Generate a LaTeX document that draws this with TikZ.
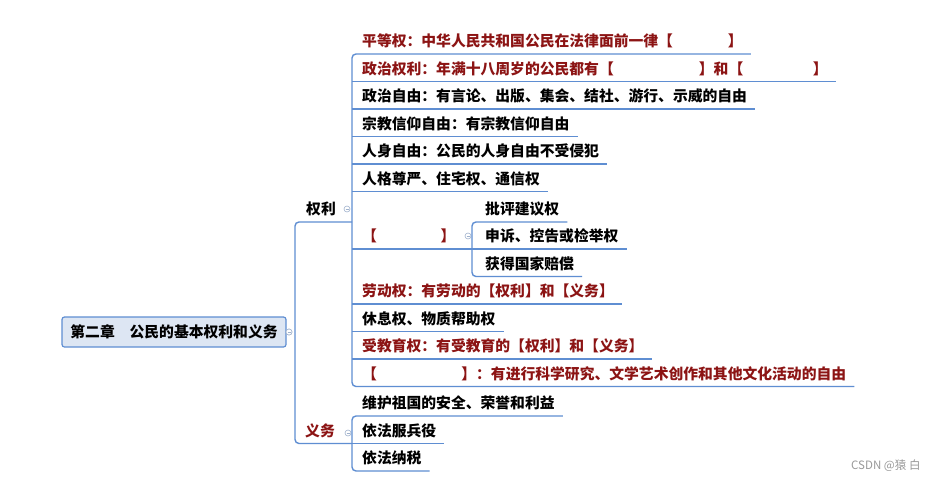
\documentclass[tikz,border=0pt]{standalone}
\usepackage{fontspec}
\setmainfont{Noto Sans CJK SC}
\usetikzlibrary{calc}
\definecolor{lineblue}{RGB}{95,142,210}
\definecolor{darkred}{RGB}{140,20,20}
\definecolor{rootfill}{RGB}{221,230,243}
\definecolor{knobcol}{RGB}{160,178,205}
\begin{document}
\begin{tikzpicture}[x=1pt,y=-1pt,
  topic/.style={anchor=base west, inner sep=0pt, font=\bfseries\fontsize{14.8}{16}\selectfont, text=black},
  redtopic/.style={topic, text=darkred},
  rootbox/.style={draw=lineblue, fill=rootfill, rounded corners=2.5pt, line width=1.2pt,
    minimum width=224pt, minimum height=30pt, inner sep=0pt, font=\bfseries\fontsize{14.8}{16}\selectfont},
  conn/.style={draw=lineblue, line width=1.4pt, rounded corners=4pt},
  knobstyle/.style={circle, draw=knobcol, fill=white, line width=0.6pt, minimum size=6pt, inner sep=0pt,
    path picture={\draw[knobcol, line width=0.5pt] ([xshift=1.5pt]path picture bounding box.west) -- ([xshift=-1.5pt]path picture bounding box.east);}},
  wm/.style={anchor=base west, inner sep=0pt, text=black!40, font=\fontsize{11.5}{13}\selectfont}]
\useasboundingbox (0,0) rectangle (942,480);
\fill[white] (0,0) rectangle (942,480);

% root
\node[rootbox] (root) at (174,332) {第二章\hspace{1em}公民的基本权利和义务};
\node[knobstyle] (k0) at (289,332) {};

% main branches
\node[topic] (quanli) at (306,214.5) {权利};
\node[knobstyle] (k1) at (347,209) {};
\node[redtopic] (yiwu) at (305,436) {义务};
\node[knobstyle] (k2) at (348,433) {};

% rights children
\node[redtopic] (p1) at (362,46.5) {平等权：中华人民共和国公民在法律面前一律【\hspace{3.7em}】};
\node[redtopic] (p2) at (362,74) {政治权利：年满十八周岁的公民都有【\hspace{5.75em}】和【\hspace{4.7em}】};
\node[topic] (p3) at (362,101.5) {政治自由：有言论、出版、集会、结社、游行、示威的自由};
\node[topic] (p4) at (362,129) {宗教信仰自由：有宗教信仰自由};
\node[topic] (p5) at (362,156.5) {人身自由：公民的人身自由不受侵犯};
\node[topic] (p6) at (362,184) {人格尊严、住宅权、通信权};
\node[redtopic] (p7) at (362,241.5) {【\hspace{4.3em}】};
\node[knobstyle] (k3) at (468,236) {};
\node[topic] (s1) at (485,214.5) {批评建议权};
\node[topic] (s2) at (485,241.5) {申诉、控告或检举权};
\node[topic] (s3) at (485,269) {获得国家赔偿};
\node[redtopic] (p8) at (362,296.5) {劳动权：有劳动的【权利】和【义务】};
\node[topic] (p9) at (362,324) {休息权、物质帮助权};
\node[redtopic] (p10) at (362,351.5) {受教育权：有受教育的【权利】和【义务】};
\node[redtopic] (p11) at (362,379) {【\hspace{5.7em}】：有进行科学研究、文学艺术创作和其他文化活动的自由};

% duties children
\node[topic] (y1) at (362,408.5) {维护祖国的安全、荣誉和利益};
\node[topic] (y2) at (362,436) {依法服兵役};
\node[topic] (y3) at (362,463.5) {依法纳税};

% connectors
\coordinate (qj) at (352,222);
\coordinate (yj) at (352,443.5);
\draw[conn] (qj) -- (295,222) -- (295,443.5) -- (yj);

\draw[conn] ($(p1.base east)+(8,7.5)$) -- (352,54) -- (352,386.5) -- ($(p11.base east)+(8,7.5)$);
\foreach \n/\u in {p2/81.5,p3/109,p4/136.5,p5/164,p6/191.5,p8/304,p9/331.5,p10/359}
  \draw[conn] (352,\u) -- ($(\n.base east)+(8,7.5)$);
\draw[conn] (352,249) -- ($(s2.base east)+(8,7.5)$);
\draw[conn] ($(s1.base east)+(8,7.5)$) -- (472,222) -- (472,276.5) -- ($(s3.base east)+(8,7.5)$);

\draw[conn] ($(y1.base east)+(8,7.5)$) -- (352,416) -- (352,471) -- ($(y3.base east)+(8,7.5)$);
\draw[conn] (yj) -- ($(y2.base east)+(8,7.5)$);

% knobs on top
\node[knobstyle] at (k0) {};

% watermark
\node[wm] (mark) at (851,469.5) {CSDN @猿\hspace{0.25em}白};
\end{tikzpicture}
\end{document}
